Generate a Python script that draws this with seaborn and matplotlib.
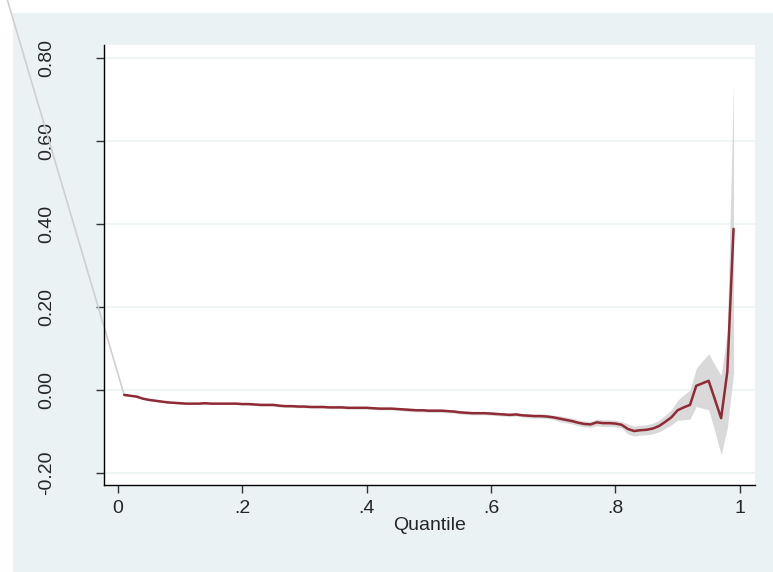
import numpy as np
import pandas as pd
import matplotlib
matplotlib.use("Agg")
import matplotlib.pyplot as plt
from matplotlib.patches import Rectangle
import seaborn as sns

# quantile grid of the estimates
quantiles = [round(0.01 * i, 2) for i in range(1, 100)]

# point estimates
coef = [
    -0.012, -0.014, -0.016, -0.021, -0.024, -0.026, -0.028, -0.030, -0.031, -0.032,
    -0.033, -0.033, -0.033, -0.032, -0.033, -0.033, -0.033, -0.033, -0.033, -0.034,
    -0.034, -0.035, -0.036, -0.036, -0.036, -0.038, -0.039, -0.039, -0.040, -0.040,
    -0.041, -0.041, -0.041, -0.042, -0.042, -0.042, -0.043, -0.043, -0.043, -0.043,
    -0.044, -0.045, -0.045, -0.045, -0.046, -0.047, -0.048, -0.049, -0.049, -0.050,
    -0.050, -0.050, -0.051, -0.052, -0.054, -0.055, -0.056, -0.056, -0.056, -0.057,
    -0.058, -0.059, -0.060, -0.059, -0.061, -0.062, -0.063, -0.063, -0.064, -0.066,
    -0.069, -0.072, -0.075, -0.079, -0.082, -0.083, -0.078, -0.080, -0.080, -0.081,
    -0.084, -0.094, -0.099, -0.097, -0.096, -0.093, -0.087, -0.077, -0.066, -0.049,
    -0.042, -0.036, 0.010, 0.016, 0.022, -0.023, -0.068, 0.044, 0.388,
]

ci_low = [
    -0.014, -0.016, -0.018, -0.023, -0.026, -0.028, -0.030, -0.032, -0.033, -0.034,
    -0.035, -0.035, -0.035, -0.034, -0.035, -0.035, -0.035, -0.035, -0.035, -0.036,
    -0.037, -0.038, -0.039, -0.039, -0.039, -0.041, -0.042, -0.042, -0.043, -0.043,
    -0.044, -0.044, -0.044, -0.045, -0.045, -0.045, -0.046, -0.046, -0.046, -0.046,
    -0.047, -0.048, -0.048, -0.048, -0.049, -0.051, -0.052, -0.053, -0.053, -0.054,
    -0.054, -0.054, -0.055, -0.056, -0.058, -0.059, -0.060, -0.060, -0.060, -0.061,
    -0.062, -0.063, -0.064, -0.063, -0.065, -0.067, -0.068, -0.068, -0.069, -0.071,
    -0.076, -0.079, -0.082, -0.086, -0.089, -0.090, -0.086, -0.088, -0.088, -0.089,
    -0.092, -0.106, -0.111, -0.109, -0.108, -0.106, -0.101, -0.093, -0.084, -0.073,
    -0.072, -0.070, -0.040, -0.044, -0.048, -0.100, -0.156, -0.092, 0.040,
]

ci_high = [
    -0.010, -0.012, -0.014, -0.019, -0.022, -0.024, -0.026, -0.028, -0.029, -0.030,
    -0.031, -0.031, -0.031, -0.030, -0.031, -0.031, -0.031, -0.031, -0.031, -0.032,
    -0.031, -0.032, -0.033, -0.033, -0.033, -0.035, -0.036, -0.036, -0.037, -0.037,
    -0.038, -0.038, -0.038, -0.039, -0.039, -0.039, -0.040, -0.040, -0.040, -0.040,
    -0.041, -0.042, -0.042, -0.042, -0.043, -0.043, -0.044, -0.045, -0.045, -0.046,
    -0.046, -0.046, -0.047, -0.048, -0.050, -0.051, -0.052, -0.052, -0.052, -0.053,
    -0.054, -0.055, -0.056, -0.055, -0.057, -0.057, -0.058, -0.058, -0.059, -0.061,
    -0.062, -0.065, -0.068, -0.072, -0.075, -0.076, -0.070, -0.072, -0.072, -0.073,
    -0.076, -0.082, -0.087, -0.085, -0.084, -0.080, -0.073, -0.061, -0.048, -0.025,
    -0.012, 0.000, 0.052, 0.070, 0.087, 0.060, 0.035, 0.140, 0.740,
]

# stray band edge running off the top-left of the graph
stray_x = [-0.178, 0.01]
stray_y = [0.94, -0.012]

y_ticks = [-0.2, 0.0, 0.2, 0.4, 0.6, 0.8]
y_labels = ["-0.20", "0.00", "0.20", "0.40", "0.60", "0.80"]
x_ticks = [0, 0.2, 0.4, 0.6, 0.8, 1]
x_labels = ["0", ".2", ".4", ".6", ".8", "1"]

df = pd.DataFrame({"q": quantiles, "coef": coef, "lo": ci_low, "hi": ci_high})

sns.set_theme(style="white")
plt.rcParams["font.family"] = ["Liberation Sans", "DejaVu Sans"]

panel = "#eaf2f3"
line_col = "#902a35"
band_col = "#d9d9d9"

fig = plt.figure(figsize=(7.73, 5.72), dpi=100)
fig.patch.set_facecolor("white")
fig.add_artist(Rectangle((13 / 773, 0), 1, (572 - 13) / 572,
                         transform=fig.transFigure, facecolor=panel,
                         edgecolor="none", zorder=0))

ax = fig.add_axes([104 / 773, 87 / 572, 651 / 773, 440 / 572])
ax.set_facecolor("white")

ax.fill_between(df["q"], df["lo"], df["hi"], color=band_col, lw=0, zorder=2)
sns.lineplot(data=df, x="q", y="coef", color=line_col, lw=1.8,
             errorbar=None, ax=ax, zorder=3)
ax.plot(stray_x, stray_y, color="#cfcfcf", lw=1.2, clip_on=False, zorder=2)

ax.set_xlim(-0.0225, 1.0245)
ax.set_ylim(-0.229, 0.831)

ax.set_yticks(y_ticks)
ax.set_yticklabels(y_labels, rotation=90, va="center", fontsize=14)
ax.set_xticks(x_ticks)
ax.set_xticklabels(x_labels, fontsize=14)

ax.grid(True, axis="y", color=panel, lw=1.1)
ax.grid(False, axis="x")
ax.set_axisbelow(True)

for side in ["top", "right"]:
    ax.spines[side].set_visible(False)
for side in ["left", "bottom"]:
    ax.spines[side].set_color("black")
    ax.spines[side].set_linewidth(1.0)

ax.tick_params(axis="y", direction="out", length=6, width=1, color="#333333",
               pad=29, left=True)
ax.tick_params(axis="x", direction="out", length=6, width=1, color="#333333",
               pad=5, bottom=True)

ax.set_xlabel("Quantile", fontsize=14, labelpad=0)
ax.set_ylabel("")

fig.savefig("out.png", dpi=100)
